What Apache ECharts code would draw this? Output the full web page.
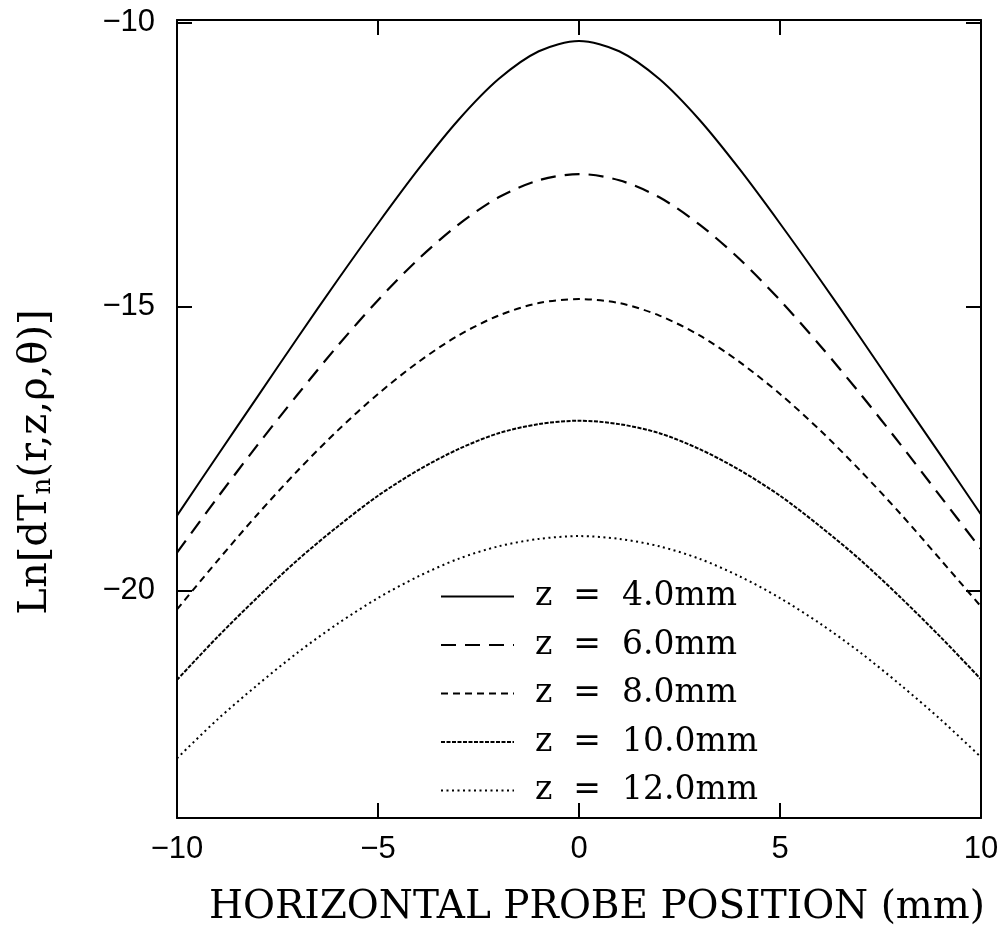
<!DOCTYPE html>
<html>
<head>
<meta charset="utf-8">
<script src="https://cdn.jsdelivr.net/npm/echarts@6/dist/echarts.min.js"></script>
<style>
html,body{margin:0;padding:0;background:#fff;}
#chart{width:1004px;height:933px;}
</style>
</head>
<body>
<div id="chart"></div>
<script>
// Horizontal probe position (mm)
const xValues = [-10,-9,-8,-7,-6,-5,-4,-3,-2,-1,0,1,2,3,4,5,6,7,8,9,10];
// Ln[dT_n] values
const z4  = [-18.68,-17.63,-16.59,-15.55,-14.53,-13.54,-12.59,-11.72,-11.00,-10.51,-10.33,-10.51,-11.00,-11.72,-12.59,-13.54,-14.53,-15.55,-16.59,-17.62,-18.66];
const z6  = [-19.33,-18.37,-17.44,-16.55,-15.69,-14.89,-14.17,-13.56,-13.08,-12.78,-12.67,-12.78,-13.08,-13.56,-14.17,-14.89,-15.69,-16.54,-17.43,-18.35,-19.27];
const z8  = [-20.33,-19.48,-18.66,-17.89,-17.18,-16.54,-15.98,-15.51,-15.16,-14.94,-14.87,-14.94,-15.16,-15.51,-15.98,-16.54,-17.18,-17.89,-18.65,-19.46,-20.28];
const z10 = [-21.57,-20.82,-20.12,-19.46,-18.87,-18.33,-17.88,-17.51,-17.23,-17.07,-17.01,-17.07,-17.23,-17.51,-17.88,-18.33,-18.87,-19.46,-20.12,-20.82,-21.56];
const z12 = [-22.95,-22.27,-21.66,-21.09,-20.58,-20.13,-19.75,-19.44,-19.22,-19.09,-19.04,-19.09,-19.22,-19.44,-19.75,-20.13,-20.58,-21.09,-21.66,-22.27,-22.93];
const seriesNames = ['z  =  4.0mm','z  =  6.0mm','z  =  8.0mm','z  =  10.0mm','z  =  12.0mm'];
const xTicks = [-10,-5,0,5,10];
const yTicks = [-20,-15,-10];
const xTitle = 'HORIZONTAL PROBE POSITION (mm)';

const allData = [z4, z6, z8, z10, z12];
const lineStyles = [
  {type:'solid', width:2},
  {type:[15,9], width:2.2},
  {type:[7,5], width:2},
  {type:[4,1.5], width:2},
  {type:[2,3.5], width:2}
];

const chart = echarts.init(document.getElementById('chart'), null, {renderer:'canvas'});
const fmt = v => String(v).replace('-', '\u2212');
const tickFont = {fontFamily:'Liberation Sans', fontSize:31, color:'#000'};
const axisLine = {show:true, onZero:false, lineStyle:{color:'#000', width:2}};
const tick = {show:true, inside:true, length:15, lineStyle:{color:'#000', width:2}};

const option = {
  animation:false,
  backgroundColor:'#fff',
  grid:{left:177, right:23, top:20, bottom:115, containLabel:false},
  legend:{
    show:true, padding:0,
    orient:'vertical', left:440, top:580,
    itemWidth:73, itemHeight:14, itemGap:15.5,
    data:seriesNames,
    itemStyle:{opacity:0},
    textStyle:{fontFamily:'DejaVu Serif', fontSize:33, lineHeight:30, color:'#000', padding:[0,0,0,16]}
  },
  xAxis:[
    {type:'value', min:-10, max:10, interval:5, position:'bottom',
     axisLine:axisLine, axisTick:tick, splitLine:{show:false},
     axisLabel:Object.assign({margin:16, formatter:fmt}, tickFont),
     name:xTitle, nameLocation:'middle', nameGap:70,
     nameTextStyle:{fontFamily:'DejaVu Serif', fontSize:39, color:'#000', padding:[0,0,0,36]}},
    {type:'value', min:-10, max:10, interval:5, position:'top',
     axisLine:axisLine, axisTick:tick, splitLine:{show:false}, axisLabel:{show:false}}
  ],
  yAxis:[
    {type:'value', min:-24, max:-9.96, position:'left',
     axisLine:axisLine, axisTick:Object.assign({customValues:yTicks}, tick), splitLine:{show:false},
     axisLabel:Object.assign({margin:22, formatter:fmt, customValues:yTicks}, tickFont)},
    {type:'value', min:-24, max:-9.96, position:'right',
     axisLine:axisLine, axisTick:Object.assign({customValues:yTicks}, tick), splitLine:{show:false},
     axisLabel:{show:false}}
  ],
  graphic:[{
    type:'text', x:36, y:462, rotation:Math.PI/2,
    style:{
      text:'Ln[dT{sub|n}(r,z,\u03C1,\u03B8)]',
      font:'40px "DejaVu Serif"', fill:'#000', align:'center', verticalAlign:'middle',
      rich:{sub:{fontFamily:'DejaVu Serif', fontSize:26, verticalAlign:'bottom', lineHeight:24, padding:[14,0,0,0]}}
    }
  }],
  series: allData.map((arr, i) => ({
    name:seriesNames[i], type:'line', xAxisIndex:0, yAxisIndex:0,
    data:xValues.map((x, j) => [x, arr[j]]),
    showSymbol:false, symbol:'none', smooth:0.3,
    lineStyle:Object.assign({color:'#000'}, lineStyles[i]),
    itemStyle:{color:'#000'}
  }))
};
chart.setOption(option);
</script>
</body>
</html>
